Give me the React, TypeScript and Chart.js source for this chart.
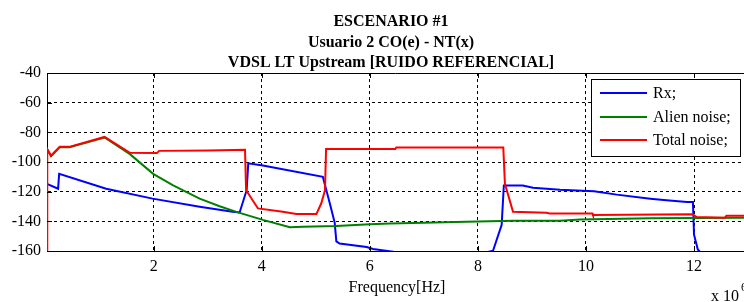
import React, { useEffect, useRef } from "react";
import { Chart, registerables } from "chart.js";

Chart.register(...registerables);

const titleLines = ["ESCENARIO #1", "Usuario 2 CO(e) - NT(x)", "VDSL LT Upstream [RUIDO REFERENCIAL]"];
const xAxisLabel = "Frequency[Hz]";
const xTickValues = [2, 4, 6, 8, 10, 12];
const yTickValues = [-160, -140, -120, -100, -80, -60, -40];
const seriesNames = ["Rx;", "Alien noise;", "Total noise;"];
const seriesColors = ["#0000ff", "#008000", "#ff0000"];

// frequency in MHz (axis shows x 10^6), level in dB
const rxFreq = [0.025, 0.23, 0.25, 1.12, 1.98, 2.85, 3.46, 3.59, 3.72, 3.75, 4.02, 5.13, 5.26, 5.35, 5.38, 5.44, 5.94, 6.06, 6.43, 7.4, 8.28, 8.44, 8.48, 8.83, 9.02, 9.52, 10.15, 10.57, 11.19, 11.49, 11.87, 11.98, 12.0, 12.07, 12.3, 12.93];
const rxLevel = [-114.7, -118, -108, -118, -124.7, -130.2, -133.6, -134, -119, -100.9, -102.4, -110, -128, -141, -153.5, -155, -157.3, -158.7, -160.5, -168, -159.8, -142.4, -115.8, -115.8, -117.3, -118.7, -119.8, -122, -124.7, -125.8, -126.9, -126.9, -149, -159, -168, -170];

const alienFreq = [0.025, 0.1, 0.26, 0.44, 1.09, 1.56, 1.99, 2.36, 2.85, 3.22, 3.53, 4.02, 4.52, 4.76, 5.38, 6.0, 6.37, 7.0, 7.79, 8.65, 9.52, 9.89, 11.19, 12.93];
const alienLevel = [-91.5, -96, -90, -90, -83.5, -94.7, -108, -115.8, -124.7, -129.8, -133.6, -139, -144, -143.6, -143.1, -142, -141.5, -141, -140.2, -139.6, -139.6, -138.7, -138, -137.5];

const totalFreq = [0.025, 0.03, 0.1, 0.26, 0.44, 1.09, 1.56, 2.06, 2.1, 3.0, 3.69, 3.71, 3.93, 4.39, 4.64, 5.01, 5.1, 5.17, 5.19, 6.47, 6.49, 8.47, 8.5, 8.65, 9.27, 9.33, 10.12, 10.13, 11.97, 12.05, 12.57, 12.6, 12.93];
const totalLevel = [-170, -91.3, -95.8, -89.8, -89.8, -83.1, -93.8, -94, -92.5, -92.2, -91.8, -119, -131.3, -133.6, -135.1, -135.1, -128, -119, -91.3, -91.3, -90.2, -90.2, -114.7, -133.6, -134.2, -134.7, -134.7, -135.8, -135.3, -137.1, -137.5, -136.2, -136.2];

const xMin = 0.025;
const xMax = 12.925;

const toPoints = (xs: number[], ys: number[]) => xs.map((x, i) => ({ x, y: ys[i] }));

const SERIF = "'Liberation Serif', 'DejaVu Serif', serif";

const decorPlugin = {
  id: "decor",
  afterDraw(chart: any) {
    const ctx = chart.ctx as CanvasRenderingContext2D;
    const area = chart.chartArea;
    const xs = chart.scales.x;
    const ys = chart.scales.y;
    ctx.save();
    // top frame line
    ctx.strokeStyle = "#000";
    ctx.lineWidth = 1;
    ctx.beginPath();
    ctx.moveTo(area.left, Math.round(area.top) + 0.5);
    ctx.lineTo(area.right, Math.round(area.top) + 0.5);
    ctx.stroke();
    // inner tick marks
    ctx.beginPath();
    xTickValues.forEach((v) => {
      const px = Math.round(xs.getPixelForValue(v)) + 0.5;
      ctx.moveTo(px, area.bottom);
      ctx.lineTo(px, area.bottom - 5);
      ctx.moveTo(px, area.top);
      ctx.lineTo(px, area.top + 5);
    });
    yTickValues.forEach((v) => {
      const py = Math.round(ys.getPixelForValue(v)) + 0.5;
      ctx.moveTo(area.left, py);
      ctx.lineTo(area.left + 5, py);
    });
    ctx.stroke();

    // legend
    const lx = 591, ly = 79, lw = 149, lh = 77;
    ctx.fillStyle = "#fff";
    ctx.fillRect(lx, ly, lw, lh);
    ctx.strokeStyle = "#000";
    ctx.lineWidth = 1;
    ctx.strokeRect(lx + 0.5, ly + 0.5, lw, lh);
    const rows = [93, 117, 140];
    ctx.font = `16px ${SERIF}`;
    ctx.textBaseline = "middle";
    ctx.textAlign = "left";
    seriesNames.forEach((name, i) => {
      ctx.strokeStyle = seriesColors[i];
      ctx.lineWidth = 2;
      ctx.beginPath();
      ctx.moveTo(600, rows[i]);
      ctx.lineTo(647, rows[i]);
      ctx.stroke();
      ctx.fillStyle = "#000";
      ctx.fillText(name, 653, rows[i] + 1);
    });

    // titles
    ctx.fillStyle = "#000";
    ctx.textAlign = "center";
    ctx.textBaseline = "alphabetic";
    ctx.font = `bold 16px ${SERIF}`;
    const base = [26, 47, 67];
    titleLines.forEach((t, i) => ctx.fillText(t, 391, base[i]));

    // x label
    ctx.font = `16px ${SERIF}`;
    ctx.fillText(xAxisLabel, 397, 292);
    // exponent
    ctx.textAlign = "left";
    ctx.fillText("x 10", 711, 301);
    ctx.font = `12px ${SERIF}`;
    ctx.fillText("6", 741, 291);
    ctx.restore();
  },
};

export default function App() {
  const ref = useRef<HTMLCanvasElement>(null);
  useEffect(() => {
    if (!ref.current) return;
    const chart = new Chart(ref.current, {
      type: "line",
      data: {
        datasets: [
          { label: seriesNames[0], data: toPoints(rxFreq, rxLevel), borderColor: seriesColors[0], borderWidth: 2, pointRadius: 0, tension: 0, order: 3 },
          { label: seriesNames[1], data: toPoints(alienFreq, alienLevel), borderColor: seriesColors[1], borderWidth: 2, pointRadius: 0, tension: 0, order: 2 },
          { label: seriesNames[2], data: toPoints(totalFreq, totalLevel), borderColor: seriesColors[2], borderWidth: 2, pointRadius: 0, tension: 0, order: 1 },
        ],
      },
      options: {
        responsive: false,
        animation: false,
        events: [],
        layout: { padding: { top: 73, right: 0, left: 0, bottom: 0 } },
        plugins: { legend: { display: false }, title: { display: false }, tooltip: { enabled: false } },
        scales: {
          x: {
            type: "linear",
            min: xMin,
            max: xMax,
            afterBuildTicks: (s: any) => { s.ticks = xTickValues.map((v) => ({ value: v })); },
            afterFit: (s: any) => { s.height = 51; s.paddingLeft = 0; s.paddingRight = 0; },
            grid: { color: "#000", lineWidth: 1, drawTicks: false },
            border: { display: true, color: "#000", width: 1, dash: [3, 3] },
            ticks: { color: "#000", font: { family: SERIF, size: 16 }, padding: 6, maxRotation: 0, autoSkip: false },
          },
          y: {
            type: "linear",
            min: -160,
            max: -40,
            afterBuildTicks: (s: any) => { s.ticks = yTickValues.map((v) => ({ value: v })); },
            afterFit: (s: any) => { s.width = 47; },
            grid: { color: "#000", lineWidth: 1, drawTicks: false },
            border: { display: true, color: "#000", width: 1, dash: [3, 3] },
            ticks: { color: "#000", font: { family: SERIF, size: 16 }, padding: 6, autoSkip: false },
          },
        },
      },
      plugins: [decorPlugin],
    } as any);
    return () => chart.destroy();
  }, []);
  return (
    <div style={{ position: "absolute", left: 0, top: 0, width: 744, height: 302, background: "#fff" }}>
      <canvas ref={ref} width={744} height={302} style={{ display: "block" }} />
    </div>
  );
}
